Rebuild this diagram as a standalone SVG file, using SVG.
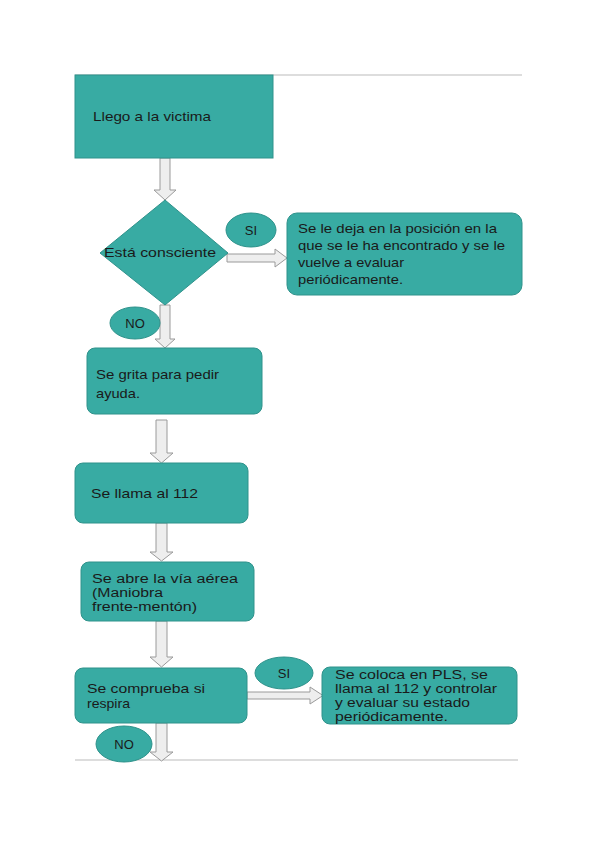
<svg xmlns="http://www.w3.org/2000/svg" width="600" height="848" viewBox="0 0 600 848">
<style>
.box{fill:#38aba3;stroke:#2f928b;stroke-width:1}
.t{font-family:"Liberation Sans",Arial,sans-serif;font-size:13px;fill:#1a1a1a}
.s{font-size:12px}
.arr{fill:#eeeeee;stroke:#9a9a9a;stroke-width:1}
.sep{stroke:#dddddd;stroke-width:2}
</style>
<rect width="600" height="848" fill="#ffffff"/>
<line class="sep" x1="75" y1="75" x2="522" y2="75"/>
<line class="sep" x1="75" y1="760" x2="518" y2="760"/>
<g id="connectors">
<path class="arr" d="M160,158 H170 V190 H176 L165,200 L154,190 H160 Z"/>
<path class="arr" d="M227,254 H275 V249 L287,258 L275,267 V262 H227 Z"/>
<path class="arr" d="M160,305 H170 V339 H175 L165,348 L155,339 H160 Z"/>
<path class="arr" d="M156,420 H167 V453 H173 L161.5,463 L150,453 H156 Z"/>
<path class="arr" d="M156,523 H167 V552 H173 L161.5,561 L150,552 H156 Z"/>
<path class="arr" d="M156,621 H167 V657 H173 L161.5,667 L150,657 H156 Z"/>
<path class="arr" d="M247,692 H310 V687 L323,695.5 L310,704 V699 H247 Z"/>
<path class="arr" d="M156,723 H167 V752 H173 L161.5,761 L150,752 H156 Z"/>
</g>
<g id="n1"><rect class="box" x="75" y="75" width="198" height="83"/><text class="t" x="93" y="121" textLength="118" lengthAdjust="spacingAndGlyphs">Llego a la victima</text></g>
<g id="n2"><polygon class="box" points="165,200 228,253 165,305 100,253"/><text class="t" x="104" y="257" textLength="112" lengthAdjust="spacingAndGlyphs">Está consciente</text></g>
<g id="si1"><ellipse class="box" cx="251" cy="230" rx="25" ry="17"/><text class="t" x="251" y="235" text-anchor="middle">SI</text></g>
<g id="n3"><rect class="box" x="287" y="213" width="235" height="82" rx="10"/>
<text class="t" x="298" y="233" textLength="199" lengthAdjust="spacingAndGlyphs">Se le deja en la posición en la</text>
<text class="t" x="298" y="250" textLength="207" lengthAdjust="spacingAndGlyphs">que se le ha encontrado y se le</text>
<text class="t" x="298" y="267" textLength="106" lengthAdjust="spacingAndGlyphs">vuelve a evaluar</text>
<text class="t" x="298" y="284" textLength="105" lengthAdjust="spacingAndGlyphs">periódicamente.</text></g>
<g id="no1"><ellipse class="box" cx="135" cy="323" rx="25" ry="16"/><text class="t" x="135" y="328" text-anchor="middle">NO</text></g>
<g id="n4"><rect class="box" x="87" y="348" width="175" height="66" rx="8"/>
<text class="t" x="96" y="379" textLength="123" lengthAdjust="spacingAndGlyphs">Se grita para pedir</text>
<text class="t" x="96" y="398" textLength="44" lengthAdjust="spacingAndGlyphs">ayuda.</text></g>
<g id="n5"><rect class="box" x="75" y="463" width="173" height="60" rx="8"/><text class="t" x="91" y="498" textLength="107" lengthAdjust="spacingAndGlyphs">Se llama al 112</text></g>
<g id="n6"><rect class="box" x="81" y="562" width="173" height="59" rx="8"/>
<text class="t s" x="92" y="583" textLength="146" lengthAdjust="spacingAndGlyphs">Se abre la vía aérea</text>
<text class="t s" x="92" y="597" textLength="71" lengthAdjust="spacingAndGlyphs">(Maniobra</text>
<text class="t s" x="92" y="611" textLength="105" lengthAdjust="spacingAndGlyphs">frente-mentón)</text></g>
<g id="n7"><rect class="box" x="75" y="668" width="172" height="55" rx="8"/>
<text class="t" x="87" y="693" textLength="118" lengthAdjust="spacingAndGlyphs">Se comprueba si</text>
<text class="t" x="87" y="708" textLength="43" lengthAdjust="spacingAndGlyphs">respira</text></g>
<g id="si2"><ellipse class="box" cx="284" cy="673" rx="29" ry="16"/><text class="t" x="284" y="678" text-anchor="middle">SI</text></g>
<g id="n8"><rect class="box" x="322" y="667" width="195" height="57" rx="8"/>
<text class="t s" x="335" y="679" textLength="153" lengthAdjust="spacingAndGlyphs">Se coloca en PLS, se</text>
<text class="t s" x="335" y="693" textLength="162" lengthAdjust="spacingAndGlyphs">llama al 112 y controlar</text>
<text class="t s" x="335" y="707" textLength="135" lengthAdjust="spacingAndGlyphs">y evaluar su estado</text>
<text class="t s" x="335" y="721" textLength="113" lengthAdjust="spacingAndGlyphs">periódicamente.</text></g>
<g id="no2"><ellipse class="box" cx="124" cy="744" rx="28" ry="18"/><text class="t" x="124" y="749" text-anchor="middle">NO</text></g>
</svg>
